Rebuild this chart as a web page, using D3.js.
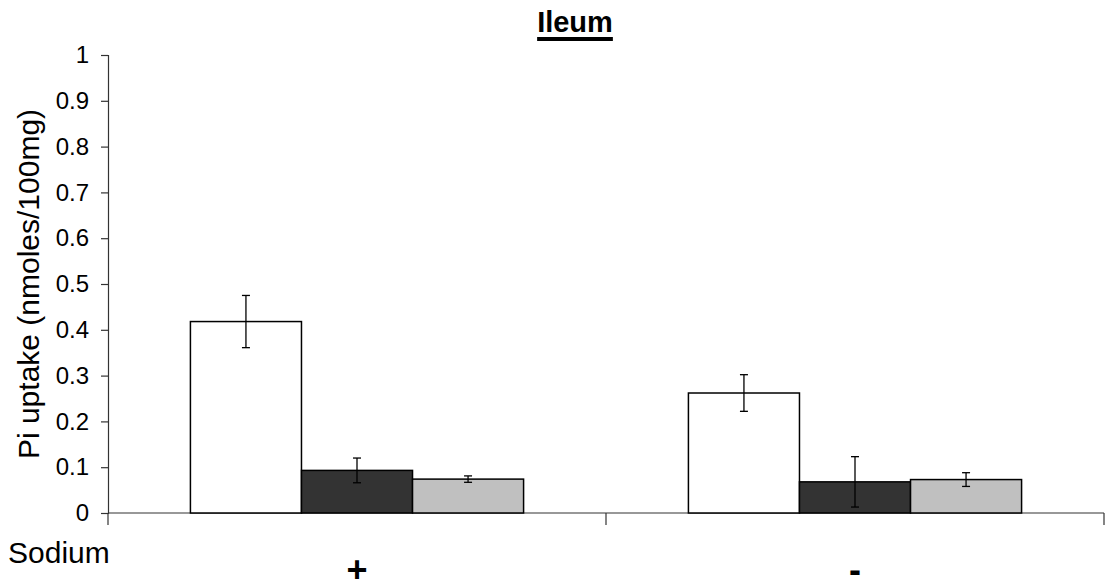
<!DOCTYPE html>
<html>
<head>
<meta charset="utf-8">
<script src="https://cdn.jsdelivr.net/npm/d3@7"></script>
<style>
  body { margin: 0; background: #fff; }
  svg text { font-family: "Liberation Sans", Arial, sans-serif; fill: #000; }
</style>
</head>
<body>
<svg id="chart" width="1106" height="585"></svg>
<script>
// data
var groups = ["+", "-"];
var series = ["a", "b", "c"];
var values = [[0.418, 0.093, 0.074], [0.262, 0.068, 0.073]];
var errors = [[0.057, 0.027, 0.007], [0.040, 0.055, 0.015]];
var yTicks = [0, 0.1, 0.2, 0.3, 0.4, 0.5, 0.6, 0.7, 0.8, 0.9, 1];
var fills = ["#ffffff", "#333333", "#c0c0c0"];

var svg = d3.select("#chart");
var plotLeft = 108, plotRight = 1104, plotTop = 55, plotBottom = 513;

var x = d3.scaleBand().domain(groups).range([plotLeft, plotRight]).paddingInner(0).paddingOuter(0);
var x1 = d3.scaleBand().domain(series).range([0, x.bandwidth() * 0.669]);
var inset = (x.bandwidth() - x1.range()[1]) / 2;
var y = d3.scaleLinear().domain([0, 1]).range([plotBottom, plotTop]);

// y axis
var yAxis = svg.append("g")
  .attr("transform", "translate(" + plotLeft + ",0)")
  .call(d3.axisLeft(y).tickValues(yTicks).tickSize(7).tickPadding(12).tickFormat(d3.format("")));
yAxis.select(".domain").attr("stroke", "#333").attr("stroke-width", 1.2);
yAxis.selectAll(".tick line").attr("stroke", "#333").attr("stroke-width", 1.2);
yAxis.selectAll("text").style("font-size", "24px").attr("fill", "#000")
  .style("font-family", "'Liberation Sans', Arial, sans-serif");

// x axis line and category dividers
svg.append("line").attr("x1", plotLeft).attr("x2", plotRight).attr("y1", plotBottom).attr("y2", plotBottom)
  .attr("stroke", "#333").attr("stroke-width", 1.2);
var divs = groups.map(function(g) { return x(g); }).concat([plotRight]);
svg.selectAll(".div").data(divs).enter().append("line")
  .attr("x1", function(d) { return d; }).attr("x2", function(d) { return d; })
  .attr("y1", plotBottom).attr("y2", plotBottom + 12)
  .attr("stroke", "#333").attr("stroke-width", 1.2);

// bars
var rows = [];
groups.forEach(function(g, gi) {
  series.forEach(function(s, si) {
    rows.push({g: g, s: s, si: si, v: values[gi][si], e: errors[gi][si]});
  });
});

svg.selectAll(".bar").data(rows).enter().append("rect")
  .attr("x", function(d) { return x(d.g) + inset + x1(d.s); })
  .attr("y", function(d) { return y(d.v); })
  .attr("width", x1.bandwidth())
  .attr("height", function(d) { return plotBottom - y(d.v); })
  .attr("fill", function(d) { return fills[d.si]; })
  .attr("stroke", "#000").attr("stroke-width", 1.5);

// error bars
var eb = svg.selectAll(".err").data(rows).enter().append("g")
  .attr("transform", function(d) { return "translate(" + (x(d.g) + inset + x1(d.s) + x1.bandwidth() / 2) + ",0)"; });
eb.append("line").attr("y1", function(d) { return y(d.v + d.e); }).attr("y2", function(d) { return y(d.v - d.e); })
  .attr("stroke", "#000").attr("stroke-width", 1.3);
eb.append("line").attr("x1", -4).attr("x2", 4)
  .attr("y1", function(d) { return y(d.v + d.e); }).attr("y2", function(d) { return y(d.v + d.e); })
  .attr("stroke", "#000").attr("stroke-width", 1.3);
eb.append("line").attr("x1", -4).attr("x2", 4)
  .attr("y1", function(d) { return y(d.v - d.e); }).attr("y2", function(d) { return y(d.v - d.e); })
  .attr("stroke", "#000").attr("stroke-width", 1.3);

// category labels
svg.selectAll(".cat").data(groups).enter().append("text")
  .attr("x", function(d) { return x(d) + x.bandwidth() / 2; })
  .attr("y", 582)
  .attr("text-anchor", "middle")
  .style("font-size", "36px").style("font-weight", "bold")
  .text(function(d) { return d; });

svg.append("text").attr("x", 8).attr("y", 563)
  .style("font-size", "30px").text("Sodium");

// title with a thick underline
var title = svg.append("text").attr("x", 575).attr("y", 32).attr("text-anchor", "middle")
  .style("font-size", "29px").style("font-weight", "bold")
  .text("Ileum");
var tw = title.node().getComputedTextLength();
svg.append("rect").attr("x", 575 - tw / 2).attr("y", 37).attr("width", tw).attr("height", 4).attr("fill", "#000");

// y label
svg.append("text")
  .attr("transform", "translate(39," + ((plotTop + plotBottom) / 2) + ") rotate(-90)")
  .attr("text-anchor", "middle")
  .style("font-size", "30px")
  .text("Pi uptake (nmoles/100mg)");
</script>
</body>
</html>
